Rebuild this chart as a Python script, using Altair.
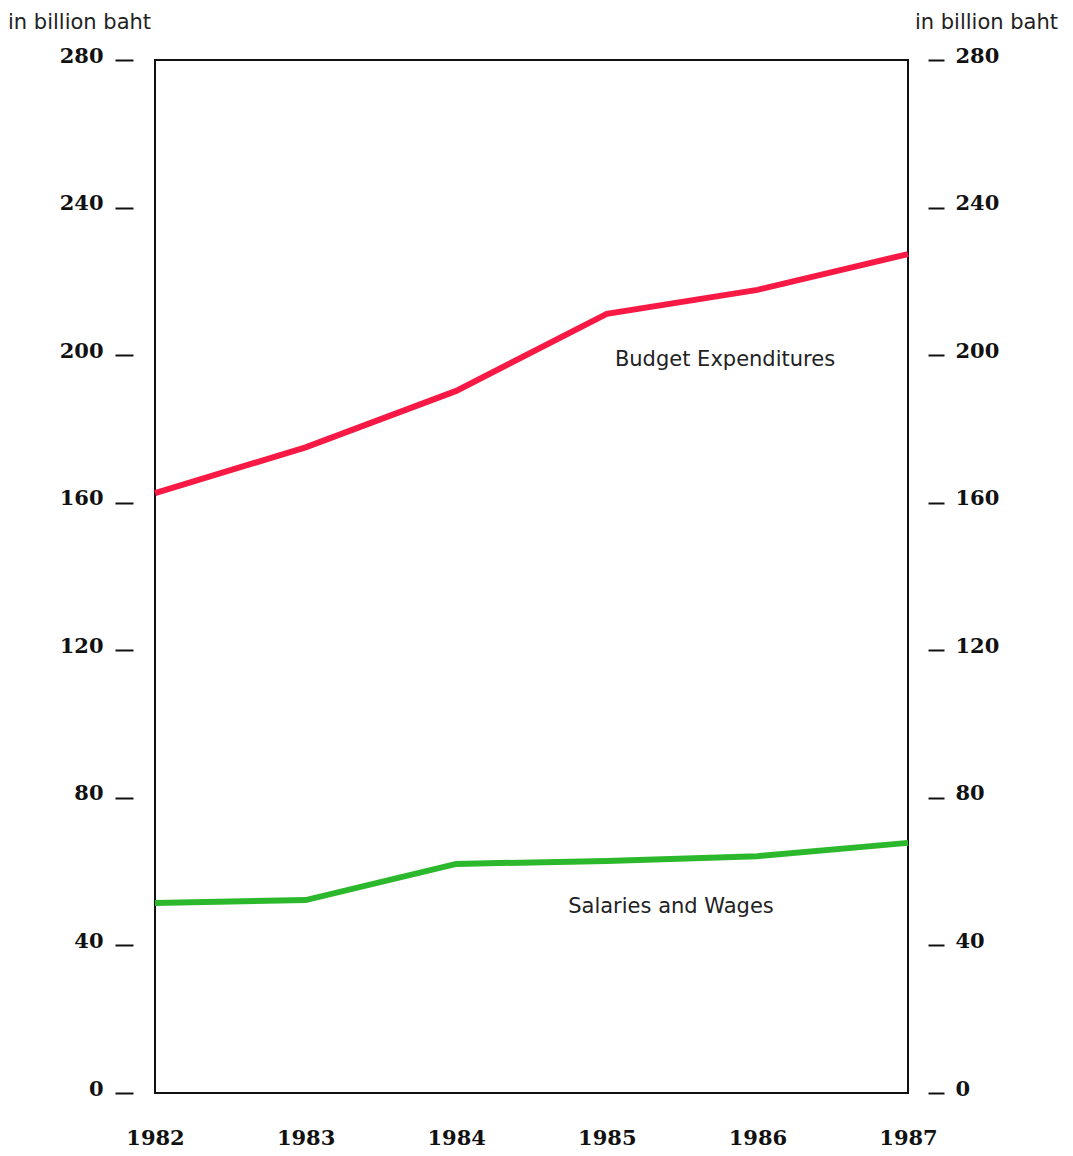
import altair as alt
import pandas as pd

years = [1982, 1983, 1984, 1985, 1986, 1987]
budget = [162.6, 175.0, 190.3, 211.2, 217.7, 227.4]
salaries = [51.5, 52.3, 62.1, 62.9, 64.2, 67.8]
series_names = ["Budget Expenditures", "Salaries and Wages"]
series_colors = ["#f81a44", "#2cb82c"]
y_ticks = [0, 40, 80, 120, 160, 200, 240, 280]
unit_label = "in billion baht"

rows = []
for y, b, s in zip(years, budget, salaries):
    rows.append({"year": y, "value": b, "series": series_names[0]})
    rows.append({"year": y, "value": s, "series": series_names[1]})
df = pd.DataFrame(rows)

num_font = "DejaVu Serif"
sans = "DejaVu Sans"

xenc = alt.X("year:Q", scale=alt.Scale(domain=[1982, 1987], nice=False, zero=False),
             axis=alt.Axis(values=years, format="d", title=None, grid=False, domain=False,
                           ticks=False, labelPadding=45, labelFlush=False, labelFont=num_font,
                           labelFontSize=21, labelFontWeight="bold", labelColor="#111",
                           labelBaseline="middle"))
color = alt.Color("series:N", scale=alt.Scale(domain=series_names, range=series_colors), legend=None)

left = alt.Chart(df).mark_line(strokeWidth=6).encode(
    x=xenc,
    y=alt.Y("value:Q", scale=alt.Scale(domain=[0, 280], nice=False),
            axis=alt.Axis(orient="left", values=y_ticks, title=None, grid=False, domain=False,
                          offset=22, tickSize=18, tickWidth=2, tickColor="#111",
                          labelPadding=12, labelFont=num_font, labelFontSize=21,
                          labelFontWeight="bold", labelColor="#111", labelBaseline="alphabetic",
                          labelOffset=2)),
    color=color,
    detail="series:N",
)

right = alt.Chart(df).mark_line(strokeWidth=6, opacity=0).encode(
    x=xenc,
    y=alt.Y("value:Q", scale=alt.Scale(domain=[0, 280], nice=False),
            axis=alt.Axis(orient="right", values=y_ticks, title=None, grid=False, domain=False,
                          offset=20, tickSize=16, tickWidth=2, tickColor="#111",
                          labelPadding=11, labelFont=num_font, labelFontSize=21,
                          labelFontWeight="bold", labelColor="#111", labelBaseline="alphabetic",
                          labelOffset=2)),
    detail="series:N",
)


def txt(label, x, y, align):
    return alt.Chart(pd.DataFrame({"label": [label]})).mark_text(
        font=sans, fontSize=21, color="#222", align=align, baseline="alphabetic"
    ).encode(text="label:N", x=alt.value(x), y=alt.value(y))


texts = (txt(unit_label, -147, -31, "left") + txt(unit_label, 903, -31, "right")
         + txt(series_names[0], 570, 306, "center") + txt(series_names[1], 516, 853, "center"))

chart = alt.layer(left, right, texts).resolve_scale(y="independent").properties(
    width=753, height=1033,
    autosize=alt.AutoSizeParams(type="none"),
    padding={"left": 147, "top": 52, "right": 150, "bottom": 58},
).configure_view(stroke="#111", strokeWidth=2)

chart.save("out.html", embed_options={"renderer": "svg", "actions": False})
